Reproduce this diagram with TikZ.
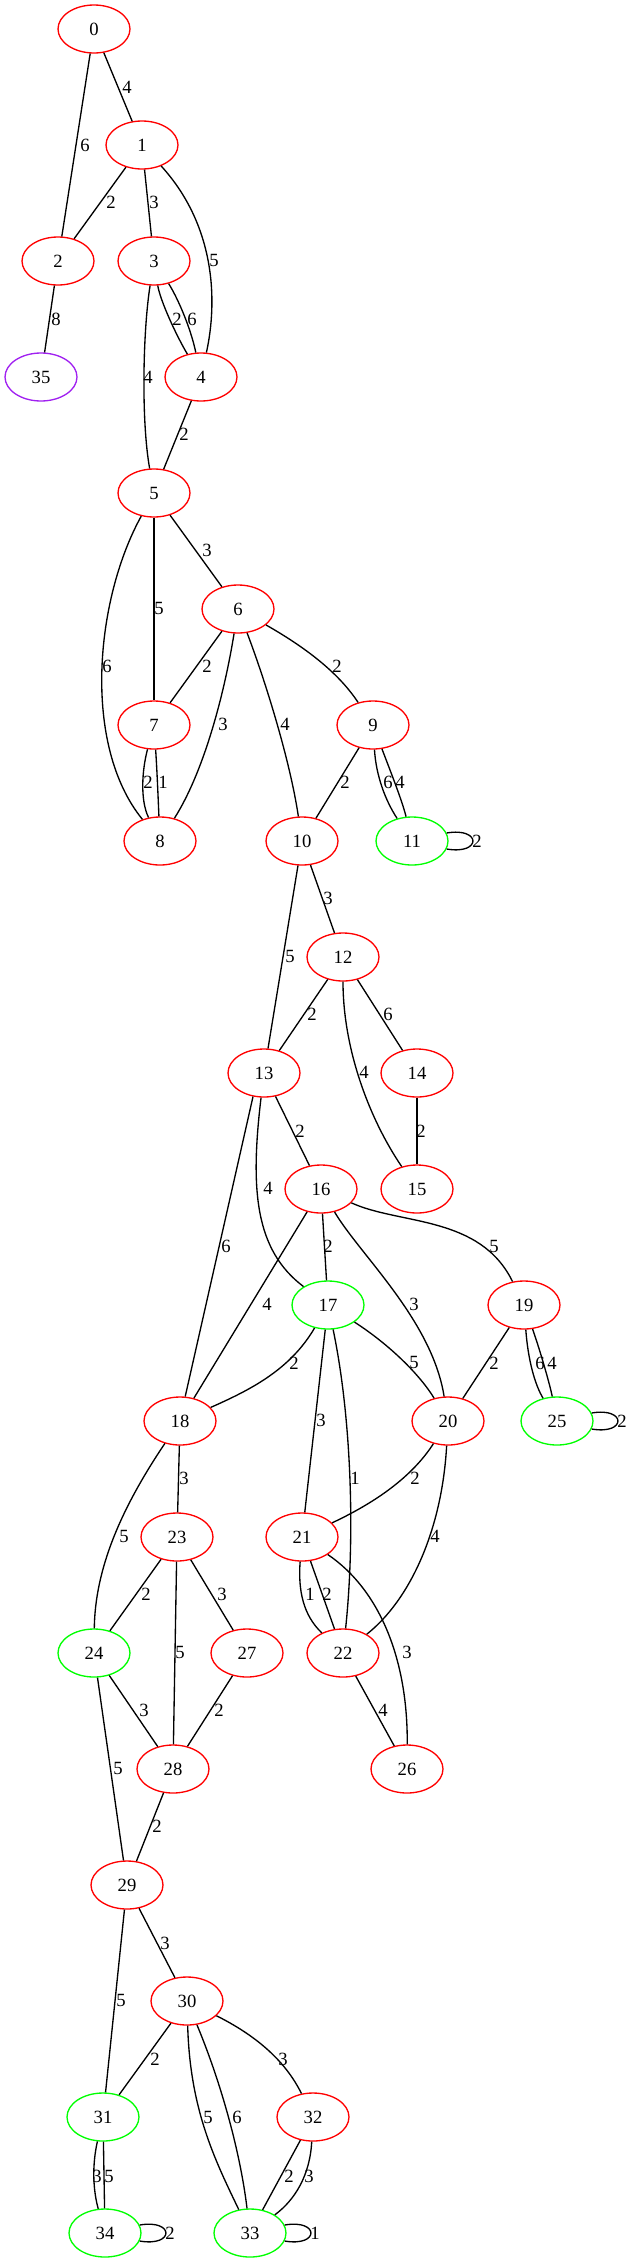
\documentclass[tikz,border=0pt]{standalone}
\usepackage{fontspec}
\setmainfont{Liberation Serif}
\usetikzlibrary{shapes.geometric}
\definecolor{gvred}{HTML}{FF0000}
\definecolor{gvgreen}{HTML}{00FF00}
\definecolor{gvpurple}{HTML}{A020F0}
\begin{document}
\begin{tikzpicture}[x=0.75pt,y=-0.75pt,
  vx/.style={ellipse, draw=#1, line width=1pt, minimum width=54pt, minimum height=36pt, inner sep=0pt, font=\fontsize{14}{16}\selectfont},
  lbl/.style={font=\fontsize{14}{16}\selectfont, inner sep=0pt},
  ed/.style={line width=1pt, black}]
\useasboundingbox (0,0) rectangle (635,2263);
% nodes
\node[vx=gvred] (n0) at (94,29) {0};
\node[vx=gvred] (n1) at (142,145) {1};
\node[vx=gvred] (n2) at (58,261) {2};
\node[vx=gvred] (n3) at (154,261) {3};
\node[vx=gvpurple] (n35) at (41,377) {35};
\node[vx=gvred] (n4) at (201,377) {4};
\node[vx=gvred] (n5) at (154,493) {5};
\node[vx=gvred] (n6) at (238,609) {6};
\node[vx=gvred] (n7) at (154,725) {7};
\node[vx=gvred] (n9) at (373,725) {9};
\node[vx=gvred] (n8) at (160,841) {8};
\node[vx=gvred] (n10) at (302,841) {10};
\node[vx=gvgreen] (n11) at (412,841) {11};
\node[vx=gvred] (n12) at (343,957) {12};
\node[vx=gvred] (n13) at (264,1073) {13};
\node[vx=gvred] (n14) at (417,1073) {14};
\node[vx=gvred] (n16) at (321,1189) {16};
\node[vx=gvred] (n15) at (417,1189) {15};
\node[vx=gvgreen] (n17) at (328,1305) {17};
\node[vx=gvred] (n19) at (524,1305) {19};
\node[vx=gvred] (n18) at (180,1421) {18};
\node[vx=gvred] (n20) at (448,1421) {20};
\node[vx=gvgreen] (n25) at (557,1421) {25};
\node[vx=gvred] (n23) at (177,1537) {23};
\node[vx=gvred] (n21) at (302,1537) {21};
\node[vx=gvgreen] (n24) at (94,1653) {24};
\node[vx=gvred] (n27) at (247,1653) {27};
\node[vx=gvred] (n22) at (343,1653) {22};
\node[vx=gvred] (n28) at (173,1769) {28};
\node[vx=gvred] (n26) at (407,1769) {26};
\node[vx=gvred] (n29) at (127,1885) {29};
\node[vx=gvred] (n30) at (187,2001) {30};
\node[vx=gvgreen] (n31) at (103,2117) {31};
\node[vx=gvred] (n32) at (313,2117) {32};
\node[vx=gvgreen] (n34) at (105,2233) {34};
\node[vx=gvgreen] (n33) at (250,2233) {33};
% edges
\draw[ed] (n0) -- (n1) node[lbl] at (127,87) {4};
\draw[ed] (n0) -- (n2) node[lbl] at (85,145) {6};
\draw[ed] (n1) -- (n2) node[lbl] at (111,202) {2};
\draw[ed] (n1) -- (n3) node[lbl] at (154,202) {3};
\draw[ed] (n1) .. controls (215,225) and (218,300) .. (n4) node[lbl] at (214,260) {5};
\draw[ed] (n2) -- (n35) node[lbl] at (56,319) {8};
\draw[ed] (n3) .. controls (160,300) and (176,335) .. (n4) node[lbl] at (177,319) {2};
\draw[ed] (n3) .. controls (176,295) and (190,325) .. (n4) node[lbl] at (192,319) {6};
\draw[ed] (n3) .. controls (143,330) and (141,420) .. (n5) node[lbl] at (148,377) {4};
\draw[ed] (n4) -- (n5) node[lbl] at (184,434) {2};
\draw[ed] (n5) -- (n6) node[lbl] at (207,550) {3};
\draw[ed] (n5) -- (n7) node[lbl] at (159,608) {5};
\draw[ed] (n5) .. controls (95,600) and (82,745) .. (n8) node[lbl] at (107,666) {6};
\draw[ed] (n6) -- (n7) node[lbl] at (207,666) {2};
\draw[ed] (n6) .. controls (225,690) and (205,770) .. (n8) node[lbl] at (223,724) {3};
\draw[ed] (n6) .. controls (265,680) and (290,760) .. (n10) node[lbl] at (285,724) {4};
\draw[ed] (n6) .. controls (310,650) and (340,675) .. (n9) node[lbl] at (337,666) {2};
\draw[ed] (n7) .. controls (142,770) and (140,800) .. (n8) node[lbl] at (148,782) {2};
\draw[ed] (n7) .. controls (157,770) and (158,795) .. (n8) node[lbl] at (163,782) {1};
\draw[ed] (n9) -- (n10) node[lbl] at (345,782) {2};
\draw[ed] (n9) .. controls (376,775) and (385,800) .. (n11) node[lbl] at (388,782) {6};
\draw[ed] (n9) .. controls (388,765) and (402,800) .. (n11) node[lbl] at (400,782) {4};
\draw[ed] (n11.13) .. controls +(35,-6) and +(35,6) .. (n11.-13) node[lbl] at (477,841) {2};
\draw[ed] (n10) -- (n12) node[lbl] at (328,898) {3};
\draw[ed] (n10) -- (n13) node[lbl] at (290,956) {5};
\draw[ed] (n12) -- (n13) node[lbl] at (312,1014) {2};
\draw[ed] (n12) -- (n14) node[lbl] at (388,1014) {6};
\draw[ed] (n12) .. controls (343,1050) and (370,1120) .. (n15) node[lbl] at (364,1072) {4};
\draw[ed] (n14) -- (n15) node[lbl] at (421,1131) {2};
\draw[ed] (n13) -- (n16) node[lbl] at (300,1131) {2};
\draw[ed] (n13) .. controls (250,1190) and (255,1250) .. (n17) node[lbl] at (268,1188) {4};
\draw[ed] (n13.-115) -- (n18.78) node[lbl] at (226,1246) {6};
\draw[ed] (n16) -- (n17) node[lbl] at (328,1246) {2};
\draw[ed] (n16) -- (n18) node[lbl] at (267,1304) {4};
\draw[ed] (n16) .. controls (360,1255) and (432,1320) .. (n20) node[lbl] at (414,1304) {3};
\draw[ed] (n16) .. controls (400,1225) and (480,1215) .. (n19) node[lbl] at (494,1246) {5};
\draw[ed] (n17) .. controls (290,1370) and (250,1390) .. (n18) node[lbl] at (294,1363) {2};
\draw[ed] (n17) .. controls (390,1345) and (420,1375) .. (n20) node[lbl] at (414,1362) {5};
\draw[ed] (n17) -- (n21) node[lbl] at (321,1420) {3};
\draw[ed] (n17) .. controls (352,1420) and (355,1540) .. (n22) node[lbl] at (355,1478) {1};
\draw[ed] (n19) -- (n20) node[lbl] at (494,1363) {2};
\draw[ed] (n19) .. controls (528,1360) and (535,1385) .. (n25) node[lbl] at (540,1363) {6};
\draw[ed] (n19) .. controls (540,1350) and (550,1385) .. (n25) node[lbl] at (552,1363) {4};
\draw[ed] (n25.13) .. controls +(35,-6) and +(35,6) .. (n25.-13) node[lbl] at (622,1421) {2};
\draw[ed] (n18) -- (n23) node[lbl] at (184,1478) {3};
\draw[ed] (n18) .. controls (120,1510) and (95,1570) .. (n24) node[lbl] at (124,1536) {5};
\draw[ed] (n20) .. controls (410,1480) and (370,1505) .. (n21) node[lbl] at (415,1478) {2};
\draw[ed] (n20) .. controls (442,1530) and (410,1600) .. (n22) node[lbl] at (435,1536) {4};
\draw[ed] (n23) -- (n24) node[lbl] at (146,1594) {2};
\draw[ed] (n23) -- (n27) node[lbl] at (222,1594) {3};
\draw[ed] (n23) -- (n28) node[lbl] at (180,1652) {5};
\draw[ed] (n21) .. controls (298,1590) and (303,1615) .. (n22) node[lbl] at (310,1594) {1};
\draw[ed] (n21) -- (n22) node[lbl] at (327,1594) {2};
\draw[ed] (n21) .. controls (380,1590) and (408,1660) .. (n26) node[lbl] at (407,1652) {3};
\draw[ed] (n24) -- (n28) node[lbl] at (144,1710) {3};
\draw[ed] (n24) -- (n29) node[lbl] at (118,1768) {5};
\draw[ed] (n27) -- (n28) node[lbl] at (219,1710) {2};
\draw[ed] (n22) -- (n26) node[lbl] at (383,1710) {4};
\draw[ed] (n28) -- (n29) node[lbl] at (157,1826) {2};
\draw[ed] (n29) -- (n30) node[lbl] at (165,1943) {3};
\draw[ed] (n29) -- (n31) node[lbl] at (121,2000) {5};
\draw[ed] (n30) -- (n31) node[lbl] at (155,2059) {2};
\draw[ed] (n30) .. controls (255,2035) and (285,2060) .. (n32) node[lbl] at (283,2059) {3};
\draw[ed] (n30) .. controls (190,2110) and (215,2160) .. (n33) node[lbl] at (208,2117) {5};
\draw[ed] (n30) .. controls (220,2080) and (240,2150) .. (n33) node[lbl] at (237,2117) {6};
\draw[ed] (n31) .. controls (92,2165) and (93,2190) .. (n34) node[lbl] at (97,2176) {3};
\draw[ed] (n31) -- (n34) node[lbl] at (109,2176) {5};
\draw[ed] (n32) -- (n33) node[lbl] at (289,2176) {2};
\draw[ed] (n32) .. controls (310,2175) and (295,2200) .. (n33) node[lbl] at (309,2176) {3};
\draw[ed] (n34.13) .. controls +(35,-6) and +(35,6) .. (n34.-13) node[lbl] at (170,2233) {2};
\draw[ed] (n33.13) .. controls +(35,-6) and +(35,6) .. (n33.-13) node[lbl] at (315,2233) {1};
\end{tikzpicture}
\end{document}
